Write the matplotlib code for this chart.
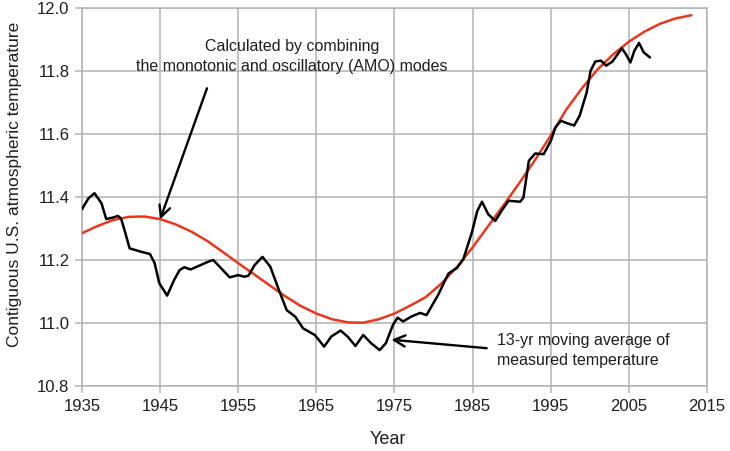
import matplotlib
matplotlib.use("Agg")
import matplotlib.pyplot as plt

plt.rcParams['font.family'] = ['Liberation Sans', 'DejaVu Sans']

# Red: calculated (monotonic + AMO oscillatory) curve
red_years = [1935, 1937, 1939, 1941, 1943, 1945, 1947, 1949, 1951, 1953, 1955, 1957, 1959,
             1961, 1963, 1965, 1967, 1969, 1971, 1973, 1975, 1977, 1979, 1981, 1983, 1985,
             1987, 1989, 1991, 1993, 1995, 1997, 1999, 2001, 2003, 2005, 2007, 2009, 2011, 2013]
red_temps = [11.285, 11.308, 11.327, 11.337, 11.338, 11.330, 11.313, 11.290, 11.261, 11.226,
             11.190, 11.155, 11.120, 11.085, 11.054, 11.030, 11.012, 11.002, 11.001, 11.012,
             11.030, 11.055, 11.082, 11.125, 11.178, 11.240, 11.308, 11.375, 11.445, 11.518,
             11.595, 11.678, 11.745, 11.805, 11.853, 11.893, 11.925, 11.950, 11.967, 11.977]

blk_years = [1935.0, 1935.8, 1936.6, 1937.5, 1938.1, 1939.0, 1939.6, 1940.0, 1940.5, 1941.1,
             1942.6, 1943.7, 1944.3, 1944.9, 1945.9, 1946.8, 1947.5, 1948.1, 1948.9, 1950.2,
             1951.2, 1951.8, 1952.8, 1953.9, 1955.0, 1955.8, 1956.3, 1957.1, 1958.1, 1959.1,
             1960.2, 1961.2, 1962.3, 1963.3, 1964.8, 1966.0, 1966.9, 1968.1, 1969.0, 1970.0,
             1971.0, 1972.0, 1973.1, 1973.9, 1974.8, 1975.4, 1976.1, 1977.2, 1978.3, 1979.1,
             1980.6, 1981.9, 1983.0, 1983.8, 1984.9, 1985.6, 1986.2, 1987.0, 1987.9, 1988.7,
             1989.6, 1991.1, 1991.5, 1992.2, 1993.0, 1994.1, 1995.0, 1995.6, 1996.3, 1997.0,
             1998.0, 1998.7, 1999.6, 2000.1, 2000.7, 2001.4, 2002.1, 2002.9, 2004.1, 2004.6,
             2005.2, 2005.7, 2006.3, 2006.9, 2007.7]
blk_temps = [11.361, 11.395, 11.412, 11.380, 11.330, 11.335, 11.340, 11.332, 11.290, 11.237,
             11.226, 11.219, 11.190, 11.126, 11.087, 11.137, 11.168, 11.177, 11.170, 11.184,
             11.195, 11.200, 11.174, 11.145, 11.152, 11.147, 11.150, 11.184, 11.210, 11.179,
             11.105, 11.041, 11.020, 10.983, 10.962, 10.925, 10.957, 10.976, 10.957, 10.927,
             10.962, 10.936, 10.914, 10.936, 10.994, 11.017, 11.005, 11.021, 11.032, 11.025,
             11.090, 11.157, 11.175, 11.202, 11.287, 11.356, 11.385, 11.345, 11.324, 11.356,
             11.388, 11.385, 11.398, 11.515, 11.538, 11.536, 11.578, 11.621, 11.642, 11.635,
             11.627, 11.658, 11.732, 11.801, 11.830, 11.833, 11.817, 11.830, 11.872, 11.854,
             11.827, 11.864, 11.889, 11.859, 11.843]

x_ticks = [1935, 1945, 1955, 1965, 1975, 1985, 1995, 2005, 2015]
y_ticks = [10.8, 11.0, 11.2, 11.4, 11.6, 11.8, 12.0]

fig = plt.figure(figsize=(7.3, 4.51), dpi=100)
ax = fig.add_axes([0.1123, 0.1441, 0.8562, 0.8382])

grid_c = '#b4b4b4'
text_c = '#1e1e1e'
ax.set_xlim(1935, 2015)
ax.set_ylim(10.8, 12.0)
ax.set_xticks(x_ticks)
ax.set_yticks(y_ticks)
ax.set_yticklabels([f"{v:.1f}" for v in y_ticks])
ax.grid(True, color=grid_c, lw=1.15)
ax.set_axisbelow(True)
for s in ax.spines.values():
    s.set_color(grid_c)
    s.set_linewidth(1.15)
ax.tick_params(axis='both', colors=grid_c, length=5, width=1.1, labelsize=12,
               labelcolor=text_c)
ax.tick_params(axis='y', pad=4)
ax.tick_params(axis='x', pad=4)

ax.plot(red_years, red_temps, color='#e8371e', lw=1.8, solid_joinstyle='round',
        solid_capstyle='round', zorder=3)
ax.plot(blk_years, blk_temps, color='black', lw=1.8, solid_joinstyle='round',
        solid_capstyle='round', zorder=4)

ax.set_xlabel('Year', fontsize=13, color=text_c)
ax.xaxis.set_label_coords(0.49, -0.119)
ax.set_ylabel('Contiguous U.S. atmospheric temperature', fontsize=12.5, color=text_c)
ax.yaxis.set_label_coords(-0.096, 0.534)

ax.annotate('', xy=(1945.0, 11.329), xytext=(1951.0, 11.745),
            arrowprops=dict(arrowstyle='->,head_length=0.8,head_width=0.4', color='black',
                            lw=1.7, shrinkA=0, shrinkB=0), zorder=5)
ax.text(1961.85, 11.846, 'Calculated by combining\nthe monotonic and oscillatory (AMO) modes',
        ha='center', va='center', fontsize=11.5, color=text_c, linespacing=1.35)

ax.annotate('', xy=(1974.6, 10.947), xytext=(1986.8, 10.920),
            arrowprops=dict(arrowstyle='->,head_length=0.8,head_width=0.4', color='black',
                            lw=1.7, shrinkA=0, shrinkB=0), zorder=5)
ax.text(1988.1, 10.913, '13-yr moving average of\nmeasured temperature',
        ha='left', va='center', fontsize=11.5, color=text_c, linespacing=1.35)

fig.savefig('out.png', dpi=100)
